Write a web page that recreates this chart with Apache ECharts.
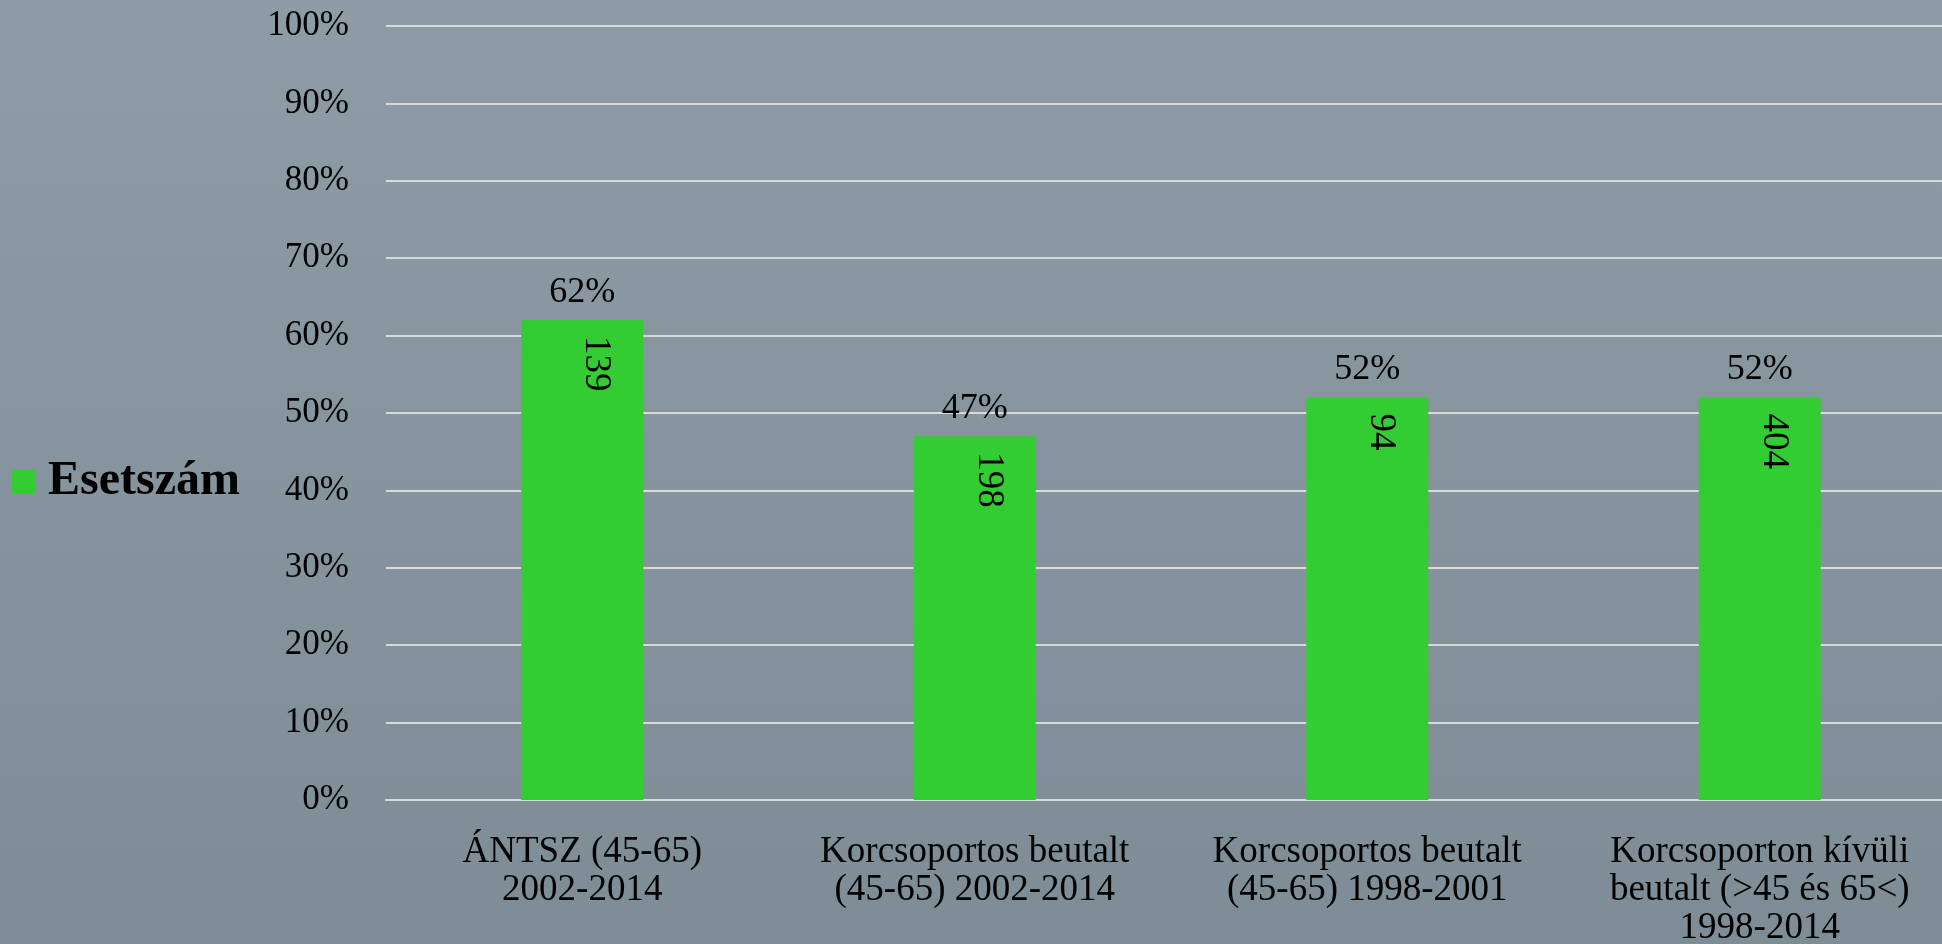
<!DOCTYPE html>
<html>
<head>
<meta charset="utf-8">
<script src="https://cdn.jsdelivr.net/npm/echarts@6/dist/echarts.min.js"></script>
<style>
html,body{margin:0;padding:0;}
#chart{width:1942px;height:944px;}
</style>
</head>
<body>
<div id="chart"></div>
<script>
const categories = [
  'ÁNTSZ (45-65)\n2002-2014',
  'Korcsoportos beutalt\n(45-65) 2002-2014',
  'Korcsoportos beutalt\n(45-65) 1998-2001',
  'Korcsoporton kívüli\nbeutalt (>45 és 65<)\n1998-2014'
];
const percentValues = [62, 47, 52, 52];
const caseCounts = [139, 198, 94, 404];
const yTicks = { min: 0, max: 100, interval: 10 };
const seriesName = 'Esetszám';

const FONT = '"Liberation Serif", "Times New Roman", serif';
const chart = echarts.init(document.getElementById('chart'));
chart.setOption({
  backgroundColor: {
    type: 'linear', x: 0, y: 0, x2: 0, y2: 1,
    colorStops: [{offset: 0, color: '#8d9ca5'}, {offset: 1, color: '#7d8c95'}]
  },
  textStyle: { fontFamily: FONT },
  legend: {
    data: [seriesName],
    orient: 'vertical',
    left: 12, top: 458, padding: 0,
    icon: 'rect', itemWidth: 24, itemHeight: 24,
    textStyle: { fontFamily: FONT, fontSize: 48, fontWeight: 'bold', color: '#000', padding: [4,0,0,7] }
  },
  grid: { left: 386, right: -14, top: 26, bottom: 144, containLabel: false, outerBoundsMode: 'none' },
  xAxis: {
    type: 'category',
    data: categories,
    axisLine: { show: true, lineStyle: { color: '#d9d9d9', width: 2 } },
    axisTick: { show: false },
    axisLabel: { interval: 0, fontFamily: FONT, fontSize: 37, lineHeight: 38, color: '#000', margin: 33 }
  },
  yAxis: {
    type: 'value',
    min: yTicks.min, max: yTicks.max, interval: yTicks.interval,
    axisLine: { show: false },
    axisTick: { show: false },
    splitLine: { lineStyle: { color: '#d9d9d9', width: 2 } },
    axisLabel: { formatter: '{value}%', fontFamily: FONT, fontSize: 35, color: '#000', margin: 37 }
  },
  series: [
    {
      name: seriesName,
      type: 'bar',
      data: percentValues,
      barWidth: 122,
      itemStyle: { color: '#33cc33' },
      label: { show: true, position: 'top', distance: 10, formatter: '{c}%', fontFamily: FONT, fontSize: 36, color: '#000' }
    },
    {
      name: 'counts',
      type: 'bar',
      data: percentValues,
      barWidth: 122,
      barGap: '-100%',
      silent: true,
      itemStyle: { color: 'rgba(0,0,0,0)' },
      label: {
        show: true, position: 'insideTop', distance: 16, rotate: -90,
        align: 'left', verticalAlign: 'bottom', offset: [0, 5],
        formatter: p => String(caseCounts[p.dataIndex]),
        fontFamily: FONT, fontSize: 37, color: '#000'
      }
    }
  ]
});
</script>
</body>
</html>
